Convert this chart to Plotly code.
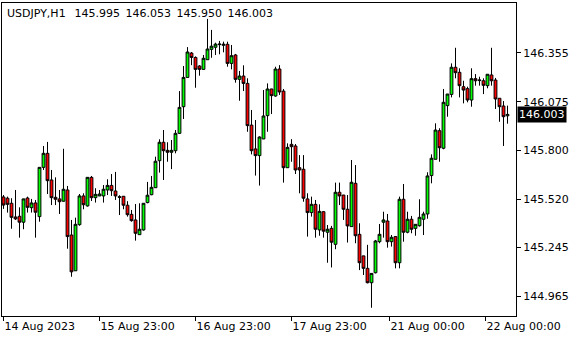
import plotly.graph_objects as go

symbol_title = "USDJPY,H1"
last_ohlc = ["145.995", "146.053", "145.950", "146.003"]

opens = [145.532,145.525,145.496,145.418,145.422,145.388,145.526,145.471,145.498,145.420,
         145.701,145.781,145.629,145.530,145.521,145.508,145.572,145.315,145.111,145.374,
         145.538,145.481,145.644,145.528,145.538,145.538,145.572,145.598,145.566,145.534,
         145.536,145.485,145.433,145.401,145.317,145.344,145.500,145.545,145.585,145.739,
         145.844,145.798,145.787,145.796,145.895,146.047,146.214,146.353,146.328,146.279,
         146.260,146.315,146.374,146.386,146.401,146.397,146.403,146.294,146.342,146.203,
         146.222,146.180,145.942,145.806,145.768,145.863,145.996,146.148,146.108,146.262,
         146.136,145.699,145.832,145.823,145.699,145.690,145.521,145.443,145.490,145.344,
         145.448,145.331,145.353,145.262,145.559,145.543,145.462,145.363,145.610,145.319,
         145.196,145.125,145.043,145.100,145.277,145.388,145.395,145.277,145.306,145.157,
         145.519,145.331,145.405,145.353,145.368,145.405,145.435,145.654,145.747,145.910,
         145.810,146.053,146.117,146.272,146.243,146.161,146.150,146.085,146.207,146.196,
         146.195,146.167,146.228,146.199,146.095,146.051,145.995]
highs = [145.543,145.534,145.525,145.572,145.473,145.522,145.534,145.521,145.515,145.702,
         145.823,145.846,145.686,145.644,145.572,145.807,145.595,145.401,145.414,145.549,
         145.553,145.645,145.652,145.582,145.572,145.600,145.633,145.663,145.675,145.542,
         145.537,145.508,145.458,145.492,145.496,145.497,145.618,145.652,145.762,145.861,
         145.914,145.844,145.857,145.914,146.136,146.279,146.387,146.359,146.334,146.284,
         146.342,146.548,146.485,146.412,146.422,146.418,146.418,146.399,146.348,146.251,
         146.283,146.209,146.028,145.971,145.878,146.142,146.180,146.149,146.275,146.284,
         146.148,145.838,145.862,145.834,145.771,145.771,145.553,145.534,145.515,145.490,
         145.452,145.372,145.367,145.614,145.614,145.544,145.543,145.743,145.714,145.382,
         145.197,145.259,145.097,145.287,145.378,145.448,145.435,145.315,145.307,145.534,
         145.606,145.448,145.424,145.377,145.519,145.448,145.673,145.775,145.952,145.924,
         146.148,146.120,146.294,146.383,146.266,146.195,146.161,146.266,146.233,146.218,
         146.209,146.233,146.383,146.211,146.096,146.079,146.053]
lows = [145.464,145.443,145.351,145.401,145.300,145.348,145.443,145.443,145.300,145.391,
        145.686,145.549,145.486,145.486,145.435,145.505,145.237,145.077,145.110,145.368,
        145.462,145.477,145.509,145.500,145.537,145.500,145.543,145.538,145.515,145.429,
        145.462,145.420,145.391,145.283,145.316,145.340,145.496,145.542,145.584,145.671,
        145.629,145.733,145.691,145.781,145.891,145.977,146.213,146.284,146.155,146.224,
        146.259,146.314,146.326,146.342,146.346,146.357,146.275,146.260,146.184,146.081,
        146.136,145.904,145.775,145.654,145.597,145.862,145.904,146.005,146.104,146.114,
        145.614,145.698,145.733,145.663,145.553,145.505,145.306,145.420,145.300,145.311,
        145.300,145.157,145.130,145.234,145.486,145.401,145.272,145.362,145.268,145.115,
        145.087,145.039,144.900,145.096,145.268,145.300,145.243,145.249,145.125,145.125,
        145.277,145.325,145.325,145.311,145.363,145.315,145.408,145.610,145.746,145.733,
        145.804,145.990,146.100,146.209,146.100,146.066,146.072,146.047,146.167,146.167,
        146.119,146.152,146.167,146.034,145.961,145.823,145.950]
closes = [145.486,145.490,145.416,145.407,145.388,145.521,145.473,145.498,145.445,145.701,
          145.781,145.625,145.528,145.519,145.505,145.576,145.306,145.105,145.376,145.538,
          145.488,145.644,145.528,145.547,145.549,145.576,145.598,145.568,145.538,145.530,
          145.485,145.431,145.397,145.325,145.348,145.496,145.542,145.587,145.736,145.844,
          145.796,145.787,145.798,145.895,146.043,146.214,146.359,146.328,146.260,146.260,
          146.323,146.376,146.392,146.404,146.404,146.403,146.294,146.338,146.203,146.222,
          146.180,145.939,145.796,145.768,145.874,145.994,146.148,146.110,146.262,146.131,
          145.699,145.815,145.819,145.686,145.686,145.525,145.443,145.490,145.348,145.450,
          145.337,145.348,145.274,145.559,145.538,145.462,145.367,145.616,145.311,145.157,
          145.125,145.043,145.096,145.281,145.319,145.401,145.277,145.302,145.157,145.519,
          145.331,145.405,145.348,145.376,145.416,145.435,145.652,145.753,145.914,145.813,
          146.072,146.119,146.272,146.241,146.167,146.142,146.085,146.207,146.195,146.199,
          146.169,146.232,146.195,146.091,146.047,145.990,146.003]

bar_index = list(range(len(opens)))
date_tick_pos = [0, 24, 48, 72, 96.5, 120.5]
date_tick_text = ["14 Aug 2023", "15 Aug 23:00", "16 Aug 23:00", "17 Aug 23:00",
                  "21 Aug 00:00", "22 Aug 00:00"]
price_ticks = [146.355, 146.075, 145.800, 145.520, 145.245, 144.965]
price_tick_text = ["146.355", "146.075", "145.800", "145.520", "145.245", "144.965"]
last_price = 146.003

FONT = "DejaVu Sans"

fig = go.Figure(go.Candlestick(
    x=bar_index, open=opens, high=highs, low=lows, close=closes,
    increasing=dict(fillcolor="#00ff00", line=dict(color="#000000", width=1)),
    decreasing=dict(fillcolor="#ff0000", line=dict(color="#000000", width=1)),
    whiskerwidth=0, showlegend=False, hoverinfo="skip",
))

fig.update_layout(
    width=580, height=340,
    margin=dict(l=2, r=64, t=3, b=24),
    paper_bgcolor="white", plot_bgcolor="white",
    boxgap=0.3, boxgroupgap=0,
    font=dict(family=FONT, size=11, color="black"),
    showlegend=False,
)
fig.update_xaxes(
    range=[-0.375, 128.125], rangeslider=dict(visible=False),
    showgrid=False, zeroline=False,
    showline=True, linecolor="black", linewidth=1, mirror=True,
    tickmode="array", tickvals=date_tick_pos, ticktext=date_tick_text,
    ticks="outside", ticklen=4, tickcolor="black", tickwidth=1,
    ticklabelposition="outside right",
    tickfont=dict(family=FONT, size=11, color="black"),
)
fig.update_yaxes(
    range=[144.8531, 146.6385], side="right",
    showgrid=False, zeroline=False,
    showline=True, linecolor="black", linewidth=1, mirror=True,
    tickmode="array", tickvals=price_ticks, ticktext=price_tick_text,
    ticks="outside", ticklen=4, tickcolor="black", tickwidth=1,
    tickfont=dict(family=FONT, size=11, color="black"),
)

header = symbol_title + "\u2002 " + "\u2002".join(last_ohlc)
fig.add_annotation(
    text=header, xref="paper", yref="paper", x=0, y=1,
    xanchor="left", yanchor="top", xshift=3, yshift=-2,
    showarrow=False, font=dict(family=FONT, size=11, color="black"),
)
fig.add_annotation(
    text=f"{last_price:.3f}", xref="paper", yref="y", x=1, y=last_price,
    xanchor="left", yanchor="middle", xshift=1,
    showarrow=False, bgcolor="black", borderpad=1,
    font=dict(family=FONT, size=11, color="white"),
)

fig.write_html("out.html")
